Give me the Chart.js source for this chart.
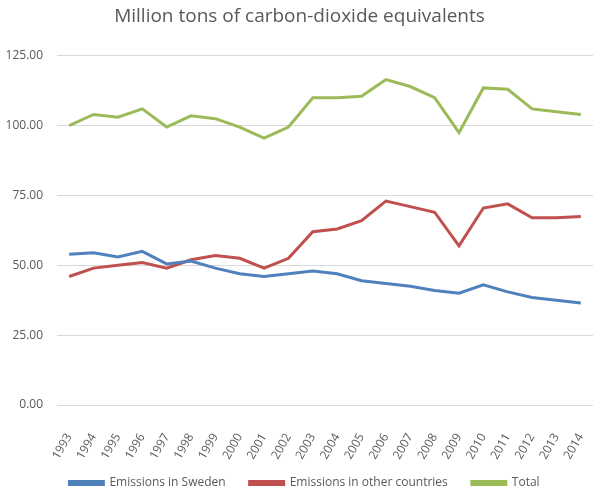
<!DOCTYPE html>
<html lang="en">
<head>
    <meta charset="UTF-8">
    <title>Emissions</title>
    <script src="https://cdn.jsdelivr.net/npm/chart.js"></script>
    <style>
        html, body { margin: 0; padding: 0; background: #fff; }
        #wrap { width: 593px; height: 491px; }
    </style>
</head>
<body>
    <div id="wrap"><canvas id="emissionsChart" width="593" height="491"></canvas></div>

    <script>
        const years = ['1993', '1994', '1995', '1996', '1997', '1998', '1999', '2000', '2001', '2002', '2003',
                       '2004', '2005', '2006', '2007', '2008', '2009', '2010', '2011', '2012', '2013', '2014'];
        const sweden = [54, 54.5, 53, 55, 50.5, 51.5, 49, 47, 46, 47, 48,
                        47, 44.5, 43.5, 42.5, 41, 40, 43, 40.5, 38.5, 37.5, 36.5];
        const otherCountries = [46, 49, 50, 51, 49, 52, 53.5, 52.5, 49, 52.5, 62,
                                63, 66, 73, 71, 69, 57, 70.5, 72, 67, 67, 67.5];
        const total = [100, 104, 103, 106, 99.5, 103.5, 102.5, 99.5, 95.5, 99.5, 110,
                       110, 110.5, 116.5, 114, 110, 97.5, 113.5, 113, 106, 105, 104];
        const yTicks = [0, 25, 50, 75, 100, 125];

        const textColor = '#595959';
        const fontFamily = '"Open Sans", sans-serif';

        const series = (label, data, color) => ({
            label: label,
            data: data,
            borderColor: color,
            backgroundColor: color,
            borderWidth: 3,
            pointRadius: 0,
            tension: 0,
            fill: false
        });

        // nudge title and legend into place after the layout is done
        const placeBoxes = {
            id: 'placeBoxes',
            afterLayout(chart) {
                const t = chart.titleBlock;
                if (t) { t.left += 2; t.right += 2; }
                const lg = chart.legend;
                if (lg) {
                    lg.top = 453;
                    lg.bottom = chart.height;
                    lg.height = lg.bottom - lg.top;
                    lg.left += 7; lg.right += 7;
                }
            }
        };

        new Chart(document.getElementById('emissionsChart'), {
            type: 'line',
            data: {
                labels: years,
                datasets: [
                    series('Emissions in Sweden', sweden, '#4F81BD'),
                    series('Emissions in other countries', otherCountries, '#C0504D'),
                    series('Total', total, '#9BBB59')
                ]
            },
            plugins: [placeBoxes],
            options: {
                responsive: false,
                animation: false,
                layout: { padding: { top: 0, right: 0, left: 2, bottom: 0 } },
                plugins: {
                    title: {
                        display: true,
                        text: 'Million tons of carbon-dioxide equivalents',
                        color: textColor,
                        font: { family: fontFamily, size: 19, weight: 'normal' },
                        padding: { top: 5, bottom: 28 }
                    },
                    legend: {
                        position: 'bottom',
                        maxHeight: 30,
                        labels: {
                            color: textColor,
                            font: { family: fontFamily, size: 12 },
                            boxWidth: 34,
                            boxHeight: 3,
                            padding: 24
                        }
                    },
                    tooltip: { enabled: false }
                },
                scales: {
                    x: {
                        offset: true,
                        grid: { display: false },
                        border: { color: '#d9d9d9' },
                        afterFit: axis => {
                            axis.height = 56;
                            axis.paddingLeft = 0;
                            axis.paddingRight = 0;
                        },
                        ticks: {
                            color: textColor,
                            font: { family: fontFamily, size: 12 },
                            minRotation: 60,
                            maxRotation: 60,
                            autoSkip: false,
                            padding: 18
                        }
                    },
                    y: {
                        min: 0,
                        max: 125,
                        afterBuildTicks: axis => {
                            axis.ticks = yTicks.map(v => ({ value: v }));
                        },
                        afterFit: axis => { axis.width = 55; },
                        grid: { color: '#d9d9d9', drawTicks: false },
                        border: { display: false },
                        ticks: {
                            color: textColor,
                            font: { family: fontFamily, size: 12 },
                            padding: 14,
                            callback: v => Number(v).toFixed(2)
                        }
                    }
                }
            }
        });
    </script>
</body>
</html>
